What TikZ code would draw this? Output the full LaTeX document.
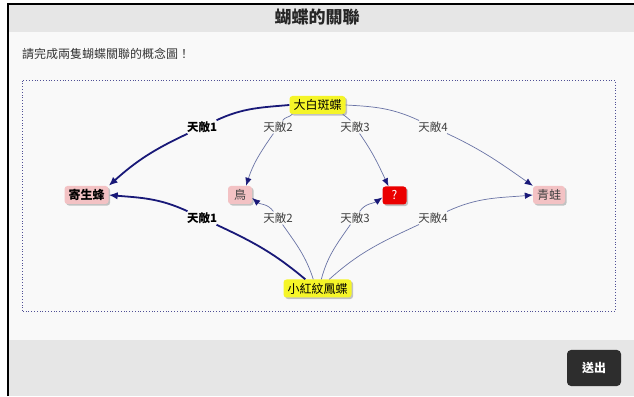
\documentclass[tikz,border=0pt]{standalone}
\usepackage{fontspec}
\setmainfont{Noto Sans CJK TC}
\usepackage{xcolor}
\usepackage{tikz}
\definecolor{barcolor}{RGB}{230,230,230}
\definecolor{pagecolor}{RGB}{249,249,249}
\definecolor{butterflycolor}{RGB}{245,245,40}
\definecolor{enemycolor}{RGB}{243,194,196}
\definecolor{unknowncolor}{RGB}{235,0,0}
\definecolor{strongcolor}{RGB}{25,25,120}
\definecolor{weakcolor}{RGB}{105,115,165}
\definecolor{framecolor}{RGB}{80,80,150}
\definecolor{buttoncolor}{RGB}{45,45,45}
\usetikzlibrary{arrows.meta, shadows, positioning}

\begin{document}
\begin{tikzpicture}[
    x=1pt, y=1pt,
    box/.style={rectangle, rounded corners=3pt, minimum height=18pt, minimum width=24pt, inner xsep=4pt, inner ysep=0pt,
                font=\fontsize{12}{12}\selectfont, drop shadow={shadow xshift=1.6pt, shadow yshift=-1.6pt, opacity=0.45}},
    butterfly/.style={box, fill=butterflycolor, text=black},
    enemy/.style={box, fill=enemycolor, text=black!75},
    unknown/.style={box, fill=unknowncolor, text=white},
    rel/.style={fill=pagecolor, inner sep=1pt, font=\fontsize{11.5}{12}\selectfont, text=black!75},
    strongrel/.style={rel, font=\fontsize{11.5}{12}\selectfont\bfseries, text=black},
    strong/.style={-{Latex[length=9pt,width=7.5pt]}, strongcolor, line width=1.8pt},
    weak/.style={-{Latex[length=8pt,width=6.5pt,color=strongcolor]}, weakcolor, line width=0.7pt}
]
    \useasboundingbox (0,0) rectangle (634,396);

    % Page background
    \fill[white] (0,0) rectangle (634,396);
    \fill[barcolor] (8,364) rectangle (634,392);
    \fill[pagecolor] (8,56) rectangle (634,364);
    \fill[barcolor] (8,0) rectangle (634,56);
    \draw[line width=1.5pt] (8,0) -- (8,392) -- (634,392);

    % Header and task
    \node[font=\fontsize{17}{17}\selectfont\bfseries, text=black!85] (title) at (317,379) {蝴蝶的關聯};
    \node[anchor=west, inner sep=0pt, font=\fontsize{12}{12}\selectfont, text=black!80] (task) at (22,342) {請完成兩隻蝴蝶關聯的概念圖！};

    % Map area
    \draw[framecolor, dotted, line width=0.8pt] (22,85) rectangle (615,316);

    % Butterflies
    \node[butterfly] (white) at (317.5,291) {大白斑蝶};
    \node[butterfly] (red) at (317.5,107.5) {小紅紋鳳蝶};

    % Enemies
    \node[enemy, font=\fontsize{12}{12}\selectfont\bfseries, text=black] (wasp) at (86.5,201) {寄生蜂};
    \node[enemy] (bird) at (240,201) {鳥};
    \node[unknown] (unk) at (394.5,200.5) {?};
    \node[enemy] (frog) at (549,201) {青蛙};

    % Link labels
    \node[strongrel] (w1) at (202,269) {天敵1};
    \node[rel] (w2) at (278,269) {天敵2};
    \node[rel] (w3) at (355,269) {天敵3};
    \node[rel] (w4) at (433,269) {天敵4};
    \node[strongrel] (r1) at (202,178) {天敵1};
    \node[rel] (r2) at (278,178) {天敵2};
    \node[rel] (r3) at (355,178) {天敵3};
    \node[rel] (r4) at (433,178) {天敵4};

    % Links from the upper butterfly
    \draw[strong] (white.west) to[out=185, in=25] (w1) to[out=205, in=42] (wasp.north east);
    \draw[weak] ([xshift=3pt]white.south west) to[out=228, in=55] (w2) to[out=235, in=72] ([xshift=6pt]bird.north);
    \draw[weak] ([xshift=-3pt]white.south east) to[out=-50, in=125] (w3) to[out=-55, in=115] ([xshift=-6pt]unk.north);
    \draw[weak] (white.east) to[out=-3, in=155] (w4) to[out=-25, in=145] (frog.north west);

    % Links from the lower butterfly
    \draw[strong] ([xshift=22pt]red.north west) to[out=140, in=-25] (r1) to[out=155, in=-5] (wasp.east);
    \draw[weak] ([xshift=30pt]red.north west) to[out=108, in=-55] (r2) to[out=125, in=-40] ([yshift=-3pt]bird.east);
    \draw[weak] ([xshift=38pt]red.north west) to[out=75, in=-125] (r3) to[out=55, in=-145] ([yshift=-2pt]unk.west);
    \draw[weak] ([xshift=46pt]red.north west) to[out=42, in=-155] (r4) to[out=25, in=185] (frog.west);

    % Submit button
    \node[fill=buttoncolor, rounded corners=4pt, minimum width=54pt, minimum height=36pt, text=white,
          font=\fontsize{12}{12}\selectfont\bfseries] (submit) at (594,28) {送出};
\end{tikzpicture}
\end{document}
